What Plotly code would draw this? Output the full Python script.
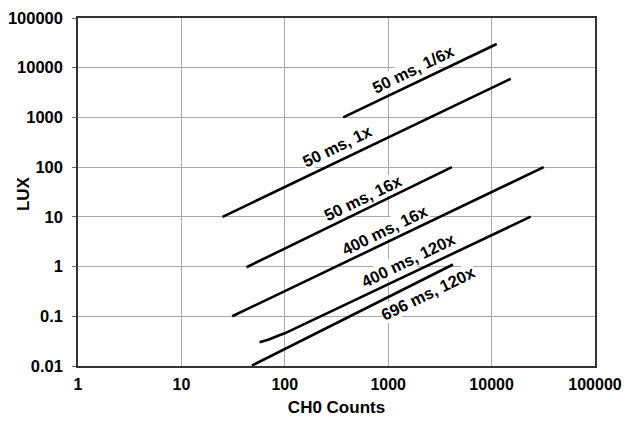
import math
import plotly.graph_objects as go

# ---- data ----
s1_x = [367, 11200]          # 50 ms, 1/6x
s1_y = [1000, 30000]
s2_x = [25, 15300]           # 50 ms, 1x
s2_y = [10, 6000]
s3_x = [42.6, 4130]          # 50 ms, 16x
s3_y = [0.97, 100]
s4_x = [31, 31900]           # 400 ms, 16x
s4_y = [0.1, 100]
s5_x = [57, 70, 85, 101, 23900]   # 400 ms, 120x
s5_y = [0.030, 0.034, 0.040, 0.046, 10.1]
s6_x = [48, 4230]            # 696 ms, 120x
s6_y = [0.0102, 1.1]

label_text = ["50 ms, 1/6x", "50 ms, 1x", "50 ms, 16x", "400 ms, 16x", "400 ms, 120x", "696 ms, 120x"]
label_x = [1754, 321, 565, 920, 1570, 2450]
label_y = [9333, 263, 24, 5.5, 1.38, 0.288]

x_ticks = [1, 10, 100, 1000, 10000, 100000]
x_ticktext = ["1", "10", "100", "1000", "10000", "100000"]
y_ticks = [0.01, 0.1, 1, 10, 100, 1000, 10000, 100000]
y_ticktext = ["0.01", "0.1", "1", "10", "100", "1000", "10000", "100000"]

FONT = "Liberation Sans, Arial, sans-serif"

fig = go.Figure()
for xs, ys in [(s1_x, s1_y), (s2_x, s2_y), (s3_x, s3_y), (s4_x, s4_y), (s5_x, s5_y), (s6_x, s6_y)]:
    fig.add_trace(go.Scatter(x=xs, y=ys, mode="lines",
                             line=dict(color="black", width=2.6),
                             showlegend=False, hoverinfo="skip"))

for t, lx, ly in zip(label_text, label_x, label_y):
    fig.add_annotation(x=math.log10(lx), y=math.log10(ly), xref="x", yref="y", text=t,
                       showarrow=False, textangle=-26, bgcolor="white", borderpad=0,
                       font=dict(family=FONT, size=16.5, color="black", weight="bold"))

# y-axis title placed like the reference (between the tick labels)
fig.add_annotation(x=0, y=0.494, xref="paper", yref="paper", xanchor="center", xshift=-55,
                   text="LUX", showarrow=False, textangle=-90,
                   font=dict(family=FONT, size=17, color="black", weight="bold"))

axis_common = dict(type="log", showgrid=True, gridcolor="#a6a9b1", gridwidth=1,
                   showline=True, linecolor="#333333", linewidth=1.5, mirror=True,
                   zeroline=False, automargin=False, ticklabeloverflow="allow")

fig.update_xaxes(range=[0, 5], tickvals=x_ticks, ticktext=x_ticktext,
                 ticks="", ticklabelstandoff=3,
                 tickfont=dict(family=FONT, size=16, color="black", weight="bold"),
                 title=dict(text="CH0 Counts", standoff=9,
                            font=dict(family=FONT, size=17, color="black", weight="bold")),
                 **axis_common)
fig.update_yaxes(range=[-2, 5], tickvals=y_ticks, ticktext=y_ticktext,
                 ticks="outside", ticklen=4, tickcolor="#666666", ticklabelstandoff=6,
                 tickfont=dict(family=FONT, size=16.5, color="black", weight="bold"),
                 **axis_common)

# the page body adds an 8px margin; size/offset the figure so the plot area sits where the reference's does
fig.update_layout(width=614, height=411, margin=dict(l=70, r=27, t=10, b=53),
                  plot_bgcolor="white", paper_bgcolor="white")

fig.write_html("out.html")
